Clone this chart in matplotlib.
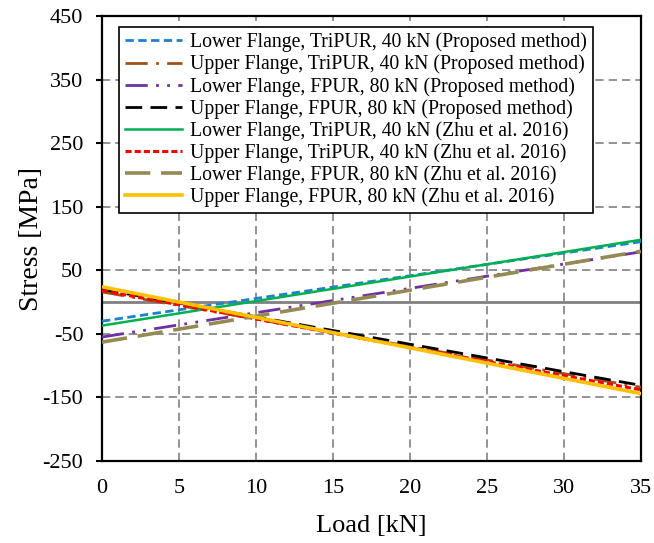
import matplotlib.pyplot as plt

plt.rcParams['font.family'] = 'Liberation Serif'
plt.rcParams['axes.unicode_minus'] = False

# Load range (kN)
load = [0, 35]

# Stress at each end of the load range (MPa)
lower_tri_prop = [-30, 95]
upper_tri_prop = [16, -134]
lower_fpur_prop = [-55, 79]
upper_fpur_prop = [20, -131]
lower_tri_zhu = [-37, 98]
upper_tri_zhu = [18, -138]
lower_fpur_zhu = [-63, 80]
upper_fpur_zhu = [24, -144]

series = [
    (lower_tri_prop, 'Lower Flange, TriPUR, 40 kN (Proposed method)', '#1f7fd0', (0, (3, 1.6)), 2.0),
    (upper_tri_prop, 'Upper Flange, TriPUR, 40 kN (Proposed method)', '#a0521c', (0, (8, 3, 1, 3)), 2.0),
    (lower_fpur_prop, 'Lower Flange, FPUR, 80 kN (Proposed method)', '#7030a0', (0, (8, 3, 1, 3, 1, 3)), 2.0),
    (upper_fpur_prop, 'Upper Flange, FPUR, 80 kN (Proposed method)', 'black', (0, (6, 3)), 2.0),
    (lower_tri_zhu, 'Lower Flange, TriPUR, 40 kN (Zhu et al. 2016)', '#00b050', '-', 1.8),
    (upper_tri_zhu, 'Upper Flange, TriPUR, 40 kN (Zhu et al. 2016)', '#ff0000', (0, (2, 1)), 2.2),
    (lower_fpur_zhu, 'Lower Flange, FPUR, 80 kN (Zhu et al. 2016)', '#948a54', (0, (7, 3)), 2.6),
    (upper_fpur_zhu, 'Upper Flange, FPUR, 80 kN (Zhu et al. 2016)', '#ffc000', '-', 2.6),
]

fig = plt.figure(figsize=(6.54, 5.43), dpi=100)
ax = fig.add_axes([0.156, 0.151, 0.824, 0.8195])

ax.set_xlim(0, 35)
ax.set_ylim(-250, 450)
ax.set_xticks(range(0, 36, 5))
ax.set_yticks(range(-250, 451, 100))

# dashed grid plus a solid zero line
for x in range(5, 35, 5):
    ax.axvline(x, color='#808080', lw=1.2, ls=(0, (5, 3)), zorder=1)
for y in range(-150, 451, 100):
    ax.axhline(y, color='#808080', lw=1.2, ls=(0, (5, 3)), zorder=1)
ax.axhline(0, color='#808080', lw=2, zorder=1)

for vals, label, color, ls, lw in series:
    ax.plot(load, vals, color=color, ls=ls, lw=lw, label=label, zorder=3)

for s in ax.spines.values():
    s.set_linewidth(1.6)
ax.tick_params(axis='y', direction='out', length=4.5, width=1.5, labelsize=16, pad=9)
ax.tick_params(axis='x', length=0, labelsize=16, pad=13)

ax.set_xlabel('Load [kN]', fontsize=19, labelpad=12)
ax.set_ylabel('Stress [MPa]', fontsize=20, labelpad=-1)

leg = ax.legend(loc='upper left', bbox_to_anchor=(0.031, 0.976), borderaxespad=0,
                fontsize=14.2, handlelength=2.9, handletextpad=0.4, labelspacing=0.12,
                borderpad=0.3, fancybox=False, framealpha=1, edgecolor='black')
leg.get_frame().set_linewidth(1.2)
leg.set_zorder(5)

fig.savefig('out.png', dpi=100)
